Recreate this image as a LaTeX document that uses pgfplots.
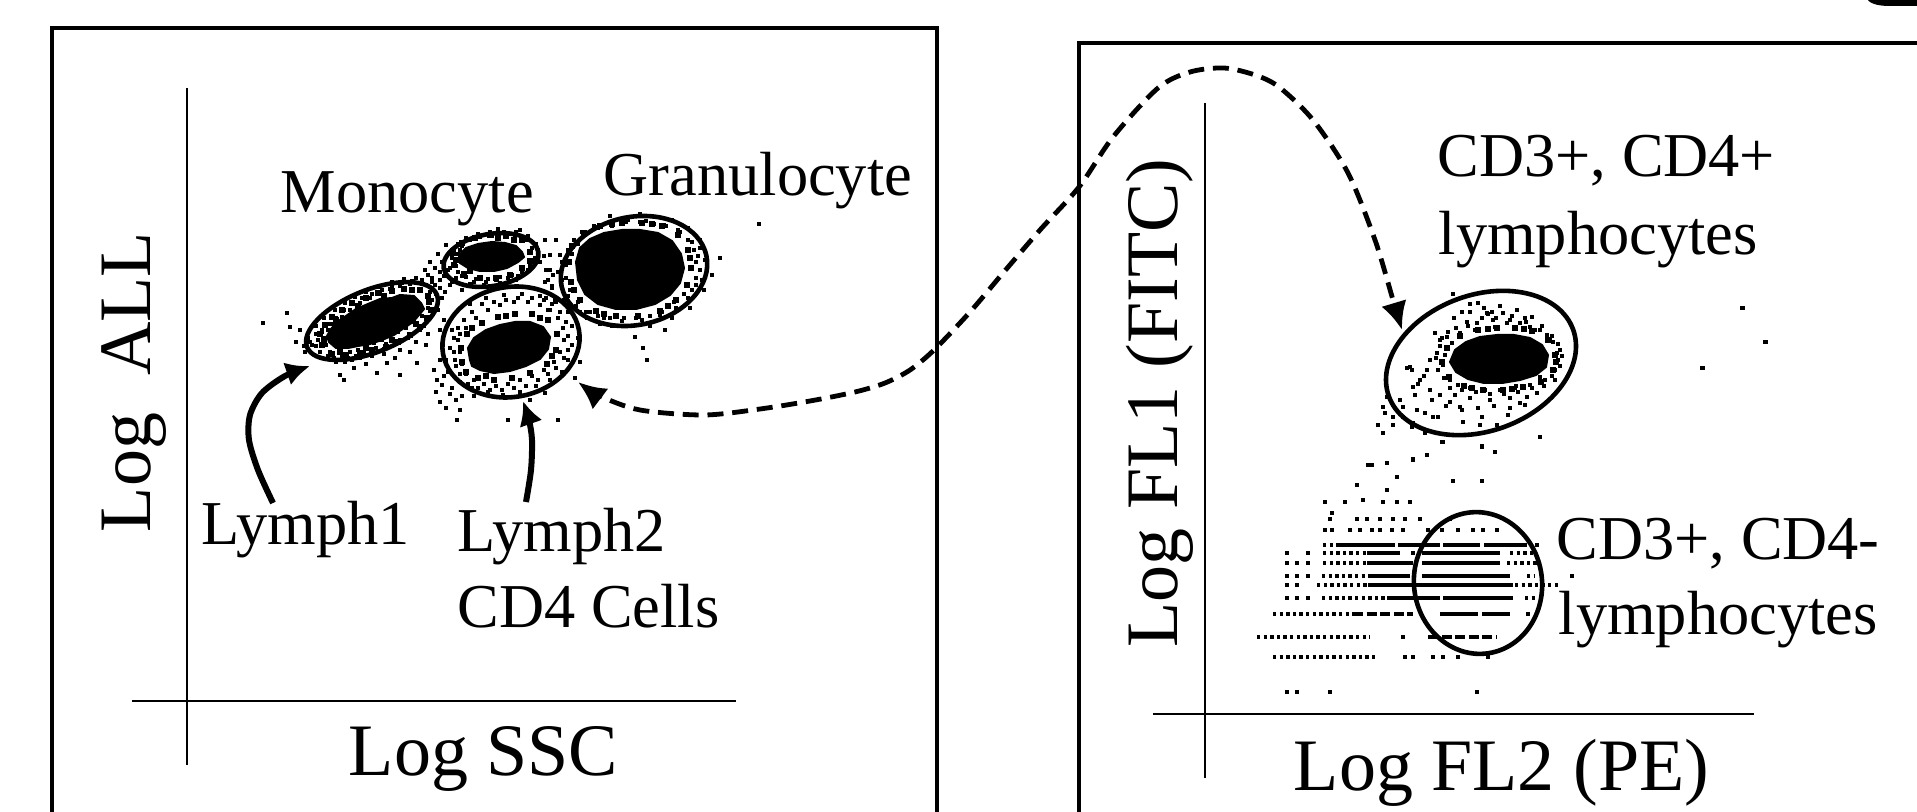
\documentclass[border=0pt]{standalone}
\usepackage{pgfplots}
\pgfplotsset{compat=1.18}
\usepackage{fontspec}
\setmainfont{Liberation Serif}
\usetikzlibrary{arrows.meta,shapes.geometric}
\pgfplotsset{
  solidrow/.style={black, line width=0.9pt, line cap=butt},
  dotrow/.style={black, line width=0.9pt, dash pattern=on 0.85pt off 0.8pt},
  dashrow/.style={black, line width=0.9pt, dash pattern=on 2.5pt off 0.9pt},
  speck/.style={only marks, mark=square*, mark size=0.42pt, mark options={draw=none, fill=black}},
  midspeck/.style={only marks, mark=square*, mark size=0.65pt, mark options={draw=none, fill=black}},
  core/.style={fill=black, draw=black, line width=0.5pt},
}
\tikzset{gate/.style={draw, ellipse, line width=1.15pt, inner sep=0}}
\newcommand{\lab}{\fontsize{15.6pt}{18pt}\selectfont}
\newcommand{\axl}{\fontsize{18.5pt}{21pt}\selectfont}
\begin{document}
\begin{tikzpicture}
\useasboundingbox (0,0) rectangle (479.25pt,203pt);
\begin{axis}[at={(0pt,0pt)}, anchor=south west, width=479.25pt, height=203pt,
  scale only axis, xmin=0, xmax=1917, ymin=0, ymax=812, y dir=reverse,
  hide axis, enlargelimits=false, clip=false]

% ---------- frames ----------
\draw[line width=1.15pt] (axis cs:52,840) -- (axis cs:52,28) -- (axis cs:937,28) -- (axis cs:937,840);
\draw[line width=1.15pt] (axis cs:1079,840) -- (axis cs:1079,43) -- (axis cs:1940,43);
% ---------- crossed axis lines ----------
\draw[line width=0.5pt] (axis cs:187,88) -- (axis cs:187,765);
\draw[line width=0.5pt] (axis cs:132,701) -- (axis cs:736,701);
\draw[line width=0.5pt] (axis cs:1205,103) -- (axis cs:1205,778);
\draw[line width=0.5pt] (axis cs:1153,714) -- (axis cs:1754,714);

% ================= LEFT PANEL: Log SSC vs Log ALL =================
% dense cores
\addplot[core] coordinates {(421,303)(414,296)(400,295)(392,298)(380,299)(368,304)(356,309)(346,316)(337,322)(331,329)(327,336)(329,342)(336,348)(348,348)(358,346)(370,344)(382,340)(394,335)(404,328)(413,322)(419,315)(424,309)} --cycle;
\addplot[core] coordinates {(522,252)(516,246)(505,243)(492,242)(478,244)(466,248)(459,255)(460,263)(468,268)(480,271)(494,271)(507,268)(518,262)(524,257)} --cycle;
\addplot[core] coordinates {(470,360)(468,348)(474,338)(486,330)(500,325)(515,322)(530,322)(543,327)(550,337)(548,349)(540,359)(526,366)(510,371)(494,373)(480,370)(472,366)} --cycle;
\addplot[core] coordinates {(576,262)(580,248)(590,239)(604,233)(622,230)(640,230)(658,233)(672,241)(681,254)(684,268)(680,283)(670,295)(655,304)(636,309)(616,309)(598,304)(585,294)(578,280)} --cycle;
% fringe of the cores
\addplot[midspeck] coordinates {(429,302)(420,290)(404,289)(392,291)(378,293)(366,298)(352,303)(342,310)(332,317)(325,325)(320,334)(322,345)(332,354)(346,355)(360,353)(372,350)(386,347)(398,342)(410,335)(420,327)(427,318)(431,310)(412,290)(384,296)(358,306)(336,320)(324,340)(340,352)(366,348)(392,340)(416,324)(428,296)
(530,252)(522,240)(506,236)(490,235)(475,238)(462,243)(453,253)(454,265)(464,274)(480,278)(496,278)(510,275)(522,268)(530,261)(514,240)(498,238)(470,271)(456,260)
(462,362)(461,348)(467,334)(482,323)(498,317)(515,314)(532,314)(548,320)(557,334)(556,350)(547,364)(530,373)(512,378)(494,380)(478,378)(466,372)(506,316)(540,318)(552,356)(486,376)(472,328)
(569,262)(572,246)(584,233)(600,226)(622,223)(642,223)(662,226)(678,235)(688,250)(691,268)(687,285)(676,300)(660,311)(638,316)(616,316)(596,311)(580,300)(571,282)(612,224)(652,224)(690,258)(668,306)(604,314)(574,290)};
% Lymph1 events
\addplot[speck] coordinates {(318,340)(322,332)(326,345)(330,352)(334,358)(342,356)(350,352)(358,350)(366,346)(374,343)(382,340)(390,336)(398,332)(406,328)(414,322)(422,316)(428,308)(432,300)(430,292)(426,285)(418,283)(410,284)(400,286)(390,289)(380,293)(370,298)(360,303)(350,310)(342,317)(334,324)(328,330)(324,338)(345,362)(352,360)(362,356)(372,352)(384,349)(396,344)(408,338)(420,330)(434,312)(438,302)(436,294)(312,345)(308,338)(316,326)(324,318)(335,310)(345,303)(355,297)(366,292)(378,287)(392,282)(404,279)(416,278)(300,330)(290,327)(287,313)(263,323)(296,342)(305,352)(340,375)(344,380)(377,373)(387,363)(400,375)(417,363)(354,368)(366,364)(395,358)(410,352)(426,345)(440,330)(444,320)
(316,346)(320,352)(328,356)(336,362)(348,358)(356,356)(364,352)(376,348)(386,344)(400,340)(412,334)(424,326)(430,318)(438,310)(442,298)(440,288)(432,282)(422,280)(412,281)(402,283)(392,286)(382,290)(372,294)(362,298)(352,304)(344,310)(336,318)(330,324)(322,330)(316,334)(310,342)(304,346)(360,358)(372,356)(384,354)(416,342)(428,334)(400,350)};
% bridge events
\addplot[speck] coordinates {(428,275)(435,268)(442,262)(448,270)(440,280)(450,285)(456,278)(462,290)(445,292)(435,285)(452,258)(460,250)(430,262)(438,254)(540,290)(546,298)(552,288)(555,300)(548,310)(545,282)(553,275)(440,272)(432,278)(425,270)(444,276)(452,282)};
% Monocyte events
\addplot[speck] coordinates {(455,262)(458,254)(462,246)(470,240)(480,237)(492,236)(505,235)(515,236)(526,240)(532,248)(535,258)(530,266)(522,272)(512,275)(500,277)(488,279)(476,279)(466,277)(458,272)(450,268)(470,284)(484,285)(500,283)(516,280)(540,262)(538,250)(544,256)(550,270)(548,280)(545,240)(452,250)(446,245)(520,230)(498,229)
(452,258)(456,266)(462,276)(474,282)(486,282)(496,280)(508,278)(518,276)(528,270)(534,262)(538,254)(536,244)(528,236)(516,232)(504,232)(490,232)(478,234)(466,238)(458,244)(454,250)};
% Lymph2 events
\addplot[speck] coordinates {(458,340)(460,352)(462,364)(466,374)(474,380)(484,384)(496,386)(508,384)(520,380)(532,376)(544,370)(554,362)(560,352)(564,340)(563,328)(558,318)(550,310)(540,305)(528,302)(514,302)(500,305)(488,310)(476,318)(466,328)(460,334)(455,360)(450,348)(452,330)(470,304)(486,298)(504,295)(522,294)(540,296)(556,302)(568,312)(572,326)(572,345)(568,360)(562,372)(550,380)(536,386)(520,392)(503,395)(488,392)(472,388)(460,382)(448,372)(440,360)(434,370)(442,385)(450,394)(437,380)(456,400)(460,410)(457,420)(508,420)(558,420)(530,400)(545,393)(575,378)(580,362)(578,338)
(454,352)(456,366)(460,374)(468,384)(478,388)(490,390)(502,390)(514,388)(526,386)(538,380)(548,374)(556,368)(564,358)(568,350)(568,336)(566,322)(560,312)(552,304)(544,300)(532,298)(518,298)(506,300)(494,302)(482,304)(472,312)(464,320)(458,328)(454,338)(446,360)(444,376)(452,388)(462,396)(474,396)(436,392)(440,402)(446,408)};
% Granulocyte events
\addplot[speck] coordinates {(566,265)(568,250)(574,240)(582,232)(594,226)(610,222)(628,220)(646,221)(664,225)(680,232)(692,242)(698,256)(700,270)(696,285)(688,298)(676,308)(660,315)(642,320)(622,321)(604,318)(590,312)(578,302)(570,290)(566,278)(560,255)(558,272)(564,300)(587,318)(612,326)(650,326)(672,318)(690,308)(704,290)(705,260)(700,240)(688,228)(672,220)(640,214)(610,216)(556,240)(550,255)(546,270)(552,286)(635,337)(647,360)(643,348)(665,330)(759,224)(720,258)(712,275)
(562,262)(562,280)(568,296)(576,306)(586,312)(598,316)(610,318)(624,318)(636,318)(650,316)(662,312)(674,302)(684,294)(692,290)(696,278)(696,262)(694,250)(688,240)(678,230)(666,226)(654,224)(640,222)(626,222)(612,226)(598,228)(586,234)(578,244)(572,254)(700,248)(702,280)(600,324)(580,312)(570,306)};
% gates
\node[gate, minimum width=140pt/4, minimum height=62pt/4, rotate=22] at (axis cs:372,321) {};
\node[gate, minimum width=96pt/4, minimum height=52pt/4, rotate=10] at (axis cs:491,260) {};
\node[gate, minimum width=138pt/4, minimum height=110pt/4, rotate=10] at (axis cs:511,342) {};
\node[gate, minimum width=148pt/4, minimum height=108pt/4, rotate=12] at (axis cs:634,271) {};
% arrows
\addplot[smooth, line width=1.5pt, -{Latex[length=6pt,width=6pt]}] coordinates {(273,503)(258,470)(249,440)(250,415)(262,393)(285,376)(310,366)};
\addplot[smooth, line width=1.5pt, -{Latex[length=6pt,width=6pt]}] coordinates {(526,502)(531,470)(532,440)(529,420)(523,401)};
% labels
\node[anchor=base west, inner sep=0, font=\lab] at (axis cs:280,213) {Monocyte};
\node[anchor=base west, inner sep=0, font=\lab] at (axis cs:603,196) {Granulocyte};
\node[anchor=base west, inner sep=0, font=\lab] at (axis cs:201,545) {Lymph1};
\node[anchor=base west, inner sep=0, font=\lab] at (axis cs:457,552) {Lymph2};
\node[anchor=base west, inner sep=0, font=\lab] at (axis cs:457,628) {CD4 Cells};
\node[anchor=base west, inner sep=0, font=\axl] at (axis cs:348,775) {Log SSC};
\node[anchor=base, rotate=90, inner sep=0, font=\axl] at (axis cs:150,382) {Log\ \ ALL};

% ================= RIGHT PANEL: Log FL2 (PE) vs Log FL1 (FITC) =================
\addplot[core] coordinates {(1450,362)(1455,350)(1466,342)(1480,337)(1497,335)(1514,335)(1530,338)(1542,345)(1548,355)(1546,367)(1536,375)(1520,380)(1502,383)(1484,383)(1468,379)(1456,372)} --cycle;
\addplot[midspeck] coordinates {(1442,362)(1447,348)(1460,336)(1478,330)(1497,328)(1515,328)(1532,331)(1548,340)(1555,355)(1553,370)(1541,382)(1523,387)(1503,390)(1483,390)(1464,386)(1449,377)(1488,329)(1524,329)(1556,362)(1512,389)(1472,388)};
\addplot[speck] coordinates {(1478,303)(1462,312)(1470,312)(1487,313)(1492,312)(1503,313)(1517,310)(1532,317)(1467,322)(1477,323)(1493,320)(1507,323)(1520,323)(1530,327)(1540,330)(1547,335)(1553,342)(1557,353)(1558,360)(1552,370)(1555,380)(1540,377)(1537,393)(1527,397)(1520,403)(1508,415)(1497,425)(1482,417)(1480,425)(1463,422)(1460,407)(1450,402)(1438,417)(1433,417)(1425,413)(1417,410)(1413,387)(1410,367)(1407,368)(1412,370)(1427,370)(1430,360)(1437,353)(1440,340)(1447,337)(1435,333)(1387,397)(1383,407)(1385,413)(1393,417)(1403,407)(1413,423)(1412,427)(1378,425)(1383,433)(1393,425)(1403,417)(1425,433)(1442,442)(1427,455)(1413,460)(1387,463)(1372,465)(1482,447)(1495,452)(1540,437)(1453,294)(1445,355)(1443,365)(1450,380)(1458,385)(1470,388)(1485,390)(1500,390)(1515,388)(1530,385)(1545,380)(1555,370)(1560,350)(1550,340)(1535,330)(1515,328)(1495,327)(1475,330)(1460,333)(1452,343)(1420,380)(1430,390)(1440,395)(1455,395)(1470,398)(1490,400)(1510,398)(1525,405)(1415,395)(1400,400)(1742,308)(1765,342)(1702,368)
(1440,346)(1436,358)(1438,370)(1444,378)(1450,388)(1462,390)(1476,392)(1490,394)(1504,394)(1518,392)(1532,388)(1544,386)(1552,376)(1560,366)(1562,356)(1558,344)(1552,336)(1542,326)(1526,322)(1510,320)(1496,318)(1482,318)(1468,326)(1456,328)(1448,332)(1442,338)(1424,376)(1418,384)(1432,400)(1446,406)(1462,410)(1478,408)(1494,406)(1510,408)(1516,386)(1488,314)(1500,306)(1512,316)(1525,318)(1454,318)(1470,304)(1484,308)};
% lower population (binned rows)
\addplot[speck] coordinates {(1332,513)(1357,485)(1387,490)(1397,477)(1368,465)(1413,459)(1443,442)(1482,446)(1453,481)(1482,481)
(1325,502)(1345,502)(1363,500)(1383,502)(1397,502)(1410,502)
(1330,519)(1357,519)(1367,519)(1380,519)(1393,519)(1405,519)(1420,519)(1450,519)
(1325,530)(1332,530)(1350,530)(1360,530)(1372,530)(1380,530)(1392,530)(1403,530)(1428,530)(1442,530)(1458,530)(1473,530)(1483,530)(1497,530)
(1537,545)(1287,553)(1308,553)(1413,553)(1287,563)(1297,563)(1308,563)(1287,576)(1297,576)(1308,576)(1572,576)(1287,585)(1297,585)
(1287,598)(1297,598)(1308,598)(1528,614)(1403,637)(1405,657)(1413,657)(1433,657)(1443,657)(1458,657)(1488,657)
(1287,692)(1297,692)(1330,692)(1477,692)};
\addplot[solidrow] coordinates {(1337,545)(1395,545)};
\addplot[solidrow] coordinates {(1398,545)(1440,545)};
\addplot[solidrow] coordinates {(1443,545)(1480,545)};
\addplot[solidrow] coordinates {(1484,545)(1527,545)};
\addplot[solidrow] coordinates {(1367,553)(1400,553)};
\addplot[solidrow] coordinates {(1422,553)(1500,553)};
\addplot[solidrow] coordinates {(1367,563)(1413,563)};
\addplot[solidrow] coordinates {(1422,563)(1500,563)};
\addplot[solidrow] coordinates {(1368,576)(1410,576)};
\addplot[solidrow] coordinates {(1422,576)(1510,576)};
\addplot[solidrow] coordinates {(1368,585)(1513,585)};
\addplot[solidrow] coordinates {(1387,598)(1440,598)};
\addplot[solidrow] coordinates {(1443,598)(1513,598)};
\addplot[solidrow] coordinates {(1440,614)(1478,614)};
\addplot[solidrow] coordinates {(1482,614)(1510,614)};
\addplot[dotrow] coordinates {(1323,545)(1337,545)};
\addplot[dotrow] coordinates {(1323,553)(1367,553)};
\addplot[dotrow] coordinates {(1510,553)(1535,553)};
\addplot[dotrow] coordinates {(1323,563)(1367,563)};
\addplot[dotrow] coordinates {(1507,563)(1538,563)};
\addplot[dotrow] coordinates {(1322,576)(1368,576)};
\addplot[dotrow] coordinates {(1527,576)(1535,576)};
\addplot[dotrow] coordinates {(1317,585)(1368,585)};
\addplot[dotrow] coordinates {(1515,585)(1560,585)};
\addplot[dotrow] coordinates {(1322,598)(1387,598)};
\addplot[dotrow] coordinates {(1525,598)(1538,598)};
\addplot[dotrow] coordinates {(1273,614)(1353,614)};
\addplot[dotrow] coordinates {(1257,637)(1370,637)};
\addplot[dotrow] coordinates {(1273,657)(1375,657)};
\addplot[dashrow] coordinates {(1353,614)(1413,614)};
\addplot[dashrow] coordinates {(1428,637)(1497,637)};
% gates
\node[gate, minimum width=196pt/4, minimum height=136pt/4, rotate=20] at (axis cs:1481,363) {};
\node[gate, minimum width=128pt/4, minimum height=142pt/4, rotate=8] at (axis cs:1478,583) {};
% labels
\node[anchor=base west, inner sep=0, font=\lab] at (axis cs:1437,177) {CD3+, CD4+};
\node[anchor=base west, inner sep=0, font=\lab] at (axis cs:1438,255) {lymphocytes};
\node[anchor=base west, inner sep=0, font=\lab] at (axis cs:1556,560) {CD3+, CD4-};
\node[anchor=base west, inner sep=0, font=\lab] at (axis cs:1558,635) {lymphocytes};
\node[anchor=base west, inner sep=0, font=\axl] at (axis cs:1293,790) {Log FL2 (PE)};
\node[anchor=base, rotate=90, inner sep=0, font=\axl] at (axis cs:1177,403) {Log FL1 (FITC)};

% ================= linking dashed arrow =================
\addplot[smooth, line width=1.2pt, dash pattern=on 4pt off 2.2pt,
  {Latex[length=7pt,width=6.5pt]}-{Latex[length=7pt,width=6.5pt]}]
  coordinates {(578,382)(600,396)(640,410)(704,415)(760,409)(810,401)(855,392)(885,383)(910,370)(934,350)(970,312)(1003,273)(1040,230)(1079,187)(1113,137)(1158,88)(1190,72)(1224,68)(1255,75)(1279,87)(1313,120)(1348,173)(1375,240)(1393,300)(1402,330)};

% sliver of a glyph cut by the top edge (top-right corner)
\fill (axis cs:1866,-3) .. controls (axis cs:1868,3) and (axis cs:1876,6) .. (axis cs:1890,6) -- (axis cs:1925,6) -- (axis cs:1925,-3) -- cycle;
\end{axis}
\end{tikzpicture}
\end{document}
